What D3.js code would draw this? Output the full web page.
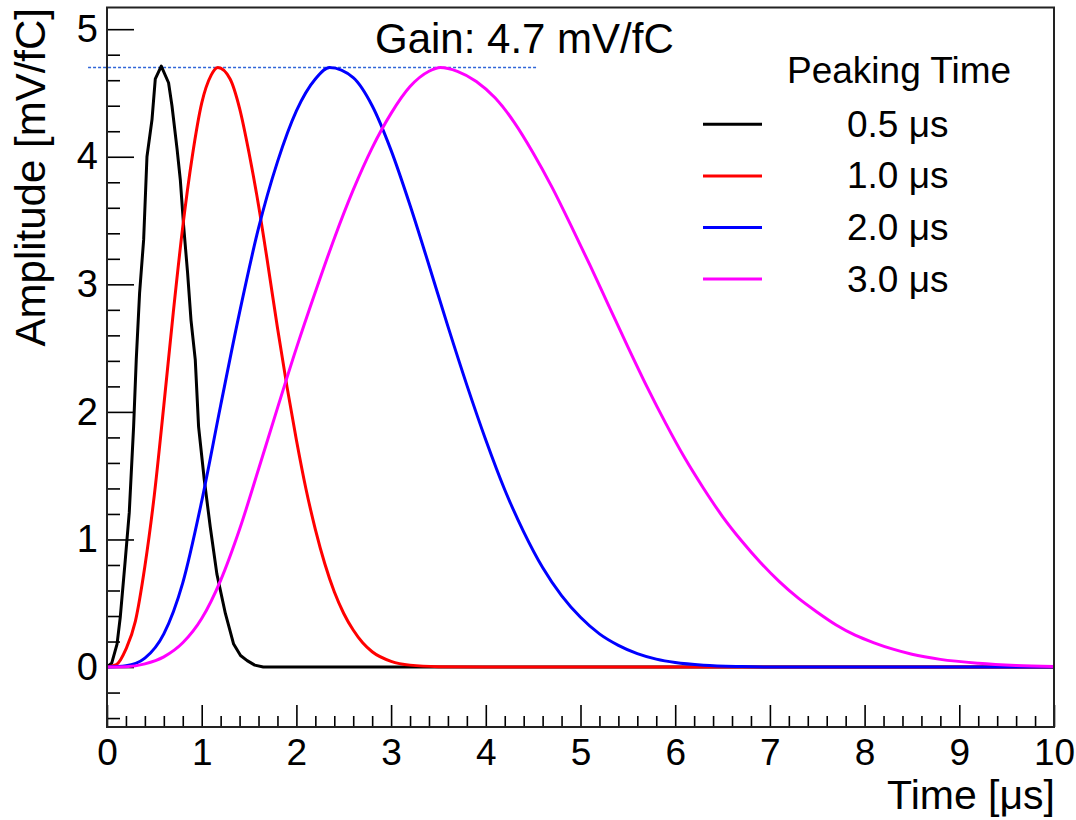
<!DOCTYPE html>
<html>
<head>
<meta charset="utf-8">
<script src="https://cdn.jsdelivr.net/npm/d3@7"></script>
<style>
  body { margin: 0; background: #fff; }
  svg text { font-family: "Liberation Sans", Arial, Helvetica, sans-serif; fill: #000; }
</style>
</head>
<body>
<div id="chart"></div>
<script>
// Frame in pixels
var W = 1076, H = 820;
var frame = { left: 107, right: 1054, top: 7.5, bottom: 727 };

// Axis ranges and tick values
var xDomain = [0, 10];
var yDomain = [-0.47, 5.17];
var xMajor = [0, 1, 2, 3, 4, 5, 6, 7, 8, 9, 10];
var yMajor = [0, 1, 2, 3, 4, 5];

// Pulse shapes: [time in us, amplitude in mV/fC]
var pulse05 = [[0, 0], [0.05, 0.03], [0.106, 0.18], [0.14, 0.39], [0.193, 0.84], [0.235, 1.21],
  [0.281, 1.885], [0.309, 2.41], [0.344, 2.93], [0.387, 3.35], [0.422, 4.0], [0.475, 4.29],
  [0.51, 4.61], [0.573, 4.71], [0.65, 4.58], [0.686, 4.40], [0.74, 4.06], [0.774, 3.82],
  [0.809, 3.46], [0.851, 3.09], [0.887, 2.72], [0.932, 2.41], [0.967, 1.885], [1.027, 1.47],
  [1.09, 1.10], [1.16, 0.73], [1.25, 0.42], [1.337, 0.18], [1.41, 0.09], [1.48, 0.05],
  [1.56, 0.015], [1.65, 0], [10, 0]];
var pulse10 = [[0, 0], [0.1, 0.02], [0.2, 0.14], [0.3, 0.36], [0.4, 0.79], [0.5, 1.35],
  [0.6, 2.05], [0.7, 2.78], [0.8, 3.45], [0.9, 4.0], [1.0, 4.42], [1.1, 4.64], [1.17, 4.70],
  [1.3, 4.61], [1.4, 4.38], [1.5, 4.03], [1.6, 3.62], [1.7, 3.15], [1.8, 2.66], [1.9, 2.20],
  [2.0, 1.78], [2.1, 1.40], [2.2, 1.08], [2.3, 0.81], [2.4, 0.59], [2.5, 0.42], [2.6, 0.29],
  [2.7, 0.19], [2.8, 0.12], [3.0, 0.045], [3.2, 0.015], [3.5, 0.003], [4.0, 0], [10, 0]];
var pulse20 = [[0, 0], [0.2, 0.01], [0.4, 0.07], [0.6, 0.26], [0.8, 0.66], [1.0, 1.30],
  [1.2, 2.05], [1.4, 2.78], [1.6, 3.44], [1.8, 3.96], [2.0, 4.36], [2.2, 4.61], [2.35, 4.70],
  [2.6, 4.62], [2.8, 4.40], [3.0, 4.05], [3.2, 3.62], [3.4, 3.15], [3.6, 2.67], [3.8, 2.21],
  [4.0, 1.78], [4.2, 1.39], [4.4, 1.06], [4.6, 0.78], [4.8, 0.56], [5.0, 0.39], [5.2, 0.26],
  [5.4, 0.17], [5.6, 0.105], [5.8, 0.062], [6.0, 0.035], [6.3, 0.014], [6.7, 0.004],
  [7.2, 0], [10, 0]];
var pulse30 = [[0, 0], [0.2, 0.003], [0.4, 0.025], [0.6, 0.08], [0.8, 0.19], [1.0, 0.38],
  [1.2, 0.68], [1.4, 1.08], [1.6, 1.55], [1.8, 2.03], [2.0, 2.50], [2.2, 2.94], [2.4, 3.36],
  [2.6, 3.74], [2.8, 4.07], [3.0, 4.34], [3.2, 4.55], [3.4, 4.67], [3.52, 4.70], [3.7, 4.67],
  [3.9, 4.59], [4.1, 4.46], [4.3, 4.27], [4.5, 4.03], [4.7, 3.76], [4.9, 3.46], [5.1, 3.15],
  [5.3, 2.83], [5.5, 2.51], [5.7, 2.20], [5.9, 1.91], [6.1, 1.64], [6.3, 1.40], [6.5, 1.18],
  [6.7, 0.99], [6.9, 0.82], [7.1, 0.67], [7.3, 0.54], [7.5, 0.43], [7.7, 0.33], [7.9, 0.25],
  [8.1, 0.19], [8.3, 0.14], [8.5, 0.10], [8.8, 0.06], [9.2, 0.03], [9.6, 0.013], [10, 0.005]];

var seriesNames = ["0.5 \u03bcs", "1.0 \u03bcs", "2.0 \u03bcs", "3.0 \u03bcs"];
var seriesData = [pulse05, pulse10, pulse20, pulse30];
var seriesColors = ["#000000", "#ff0000", "#0000ff", "#ff00ff"];

var gainValue = 4.7;
var gainLineRange = [-0.2, 4.55];

// Scales
var x = d3.scaleLinear().domain(xDomain).range([frame.left, frame.right]);
var y = d3.scaleLinear().domain(yDomain).range([frame.bottom, frame.top]);

var svg = d3.select("#chart").append("svg")
    .attr("width", W)
    .attr("height", H);

// Minor ticks every 0.2
var xMinor = d3.range(0, 51).map(function (i) { return +(i * 0.2).toFixed(1); })
    .filter(function (v) { return xMajor.indexOf(v) < 0; });
var yMinor = d3.range(-2, 26).map(function (i) { return +(i * 0.2).toFixed(1); })
    .filter(function (v) { return yMajor.indexOf(v) < 0 && v >= yDomain[0] && v <= yDomain[1]; });

// x axis
var xAxis = d3.axisBottom(x).tickValues(xMajor).tickSize(-22).tickSizeOuter(0).tickPadding(12)
    .tickFormat(d3.format("d"));
var gx = svg.append("g").attr("transform", "translate(0," + frame.bottom + ")").call(xAxis);
svg.append("g").attr("transform", "translate(0," + frame.bottom + ")")
    .call(d3.axisBottom(x).tickValues(xMinor).tickSize(-11).tickSizeOuter(0).tickFormat(""));

// y axis
var yAxis = d3.axisLeft(y).tickValues(yMajor).tickSize(-27).tickSizeOuter(0).tickPadding(9)
    .tickFormat(d3.format("d"));
var gy = svg.append("g").attr("transform", "translate(" + frame.left + ",0)").call(yAxis);
svg.append("g").attr("transform", "translate(" + frame.left + ",0)")
    .call(d3.axisLeft(y).tickValues(yMinor).tickSize(-13).tickSizeOuter(0).tickFormat(""));

svg.selectAll(".domain").remove();
svg.selectAll(".tick line").attr("stroke", "#000").attr("stroke-width", 1.6);
gx.selectAll(".tick text").style("font-size", "37px");
gy.selectAll(".tick text").style("font-size", "38px");

// Clip for curves
svg.append("clipPath").attr("id", "plotClip")
    .append("rect")
    .attr("x", frame.left).attr("y", frame.top)
    .attr("width", frame.right - frame.left).attr("height", frame.bottom - frame.top);

// Gain reference line
svg.append("line")
    .attr("x1", x(gainLineRange[0])).attr("x2", x(gainLineRange[1]))
    .attr("y1", Math.round(y(gainValue)) + 0.5).attr("y2", Math.round(y(gainValue)) + 0.5)
    .attr("stroke", "#2f66d8")
    .attr("stroke-width", 1.5)
    .attr("stroke-dasharray", "3,2");

// Curves
var line = d3.line()
    .x(function (d) { return x(d[0]); })
    .y(function (d) { return y(d[1]); });

seriesData.forEach(function (data, i) {
    line.curve(i === 0 ? d3.curveLinear : d3.curveMonotoneX);
    svg.append("path")
        .attr("clip-path", "url(#plotClip)")
        .attr("d", line(data))
        .attr("fill", "none")
        .attr("stroke", seriesColors[i])
        .attr("stroke-width", 3)
        .attr("stroke-linejoin", "round");
});

// Frame
svg.append("rect")
    .attr("x", frame.left).attr("y", frame.top)
    .attr("width", frame.right - frame.left).attr("height", frame.bottom - frame.top)
    .attr("fill", "none")
    .attr("stroke", "#222")
    .attr("stroke-width", 2);

// Axis titles
svg.append("text")
    .attr("x", 1055).attr("y", 809)
    .attr("text-anchor", "end")
    .style("font-size", "41px")
    .text("Time [\u03bcs]");

svg.append("text")
    .attr("transform", "translate(45," + 8 + ") rotate(-90)")
    .attr("text-anchor", "end")
    .style("font-size", "42px")
    .text("Amplitude [mV/fC]");

// Gain label
svg.append("text")
    .attr("x", 375).attr("y", 53)
    .style("font-size", "42px")
    .text("Gain: 4.7 mV/fC");

// Legend
var legend = svg.append("g");
legend.append("text")
    .attr("x", 787).attr("y", 83)
    .style("font-size", "37px")
    .text("Peaking Time");

var rowY = d3.scaleLinear().domain([0, 1]).range([124.3, 175.9]);
seriesNames.forEach(function (name, i) {
    legend.append("line")
        .attr("x1", 703).attr("x2", 762)
        .attr("y1", rowY(i)).attr("y2", rowY(i))
        .attr("stroke", seriesColors[i])
        .attr("stroke-width", 3);
    legend.append("text")
        .attr("x", 847).attr("y", rowY(i) + 12.5)
        .style("font-size", "37px")
        .text(name);
});
</script>
</body>
</html>
